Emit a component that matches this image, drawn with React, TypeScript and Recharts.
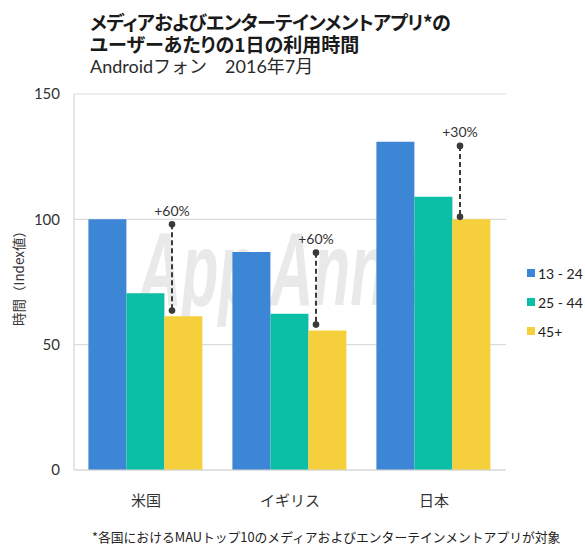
import React from 'react';
import { BarChart, Bar, XAxis, YAxis, CartesianGrid, LabelList } from 'recharts';

const categories = ['米国', 'イギリス', '日本'];
const age13to24 = [100, 87, 131];
const age25to44 = [70.5, 62.3, 109];
const age45plus = [61.3, 55.7, 100];
const annotationTop = [98, 86.7, 129.3];
const annotationBottom = [63.6, 58, 101];
const annotationLabels = ['+60%', '+60%', '+30%'];
const seriesNames = ['13 - 24', '25 - 44', '45+'];
const seriesKeys = ['a', 'b', 'c'];
const seriesColors = ['#3d85d5', '#0bbfa6', '#f6d03c'];
const yTicks = [0, 50, 100, 150];

const data = categories.map((name, i) => ({
  name,
  a: age13to24[i],
  b: age25to44[i],
  c: age45plus[i],
}));

const NUM_FONT = "Lato, 'Noto Sans CJK JP', sans-serif";
const JP_FONT = "'Noto Sans CJK JP', sans-serif";

const renderAnnotation = (props: any) => {
  const vb = props.viewBox || {};
  const x = props.x ?? vb.x;
  const y = props.y ?? vb.y;
  const width = props.width ?? vb.width;
  const height = props.height ?? vb.height;
  const index = props.index;
  const value = Number(props.value ?? age45plus[index]);
  const perUnit = height / value;
  const base = y + height;
  const lx = x + width * 0.2;
  const yTop = base - annotationTop[index] * perUnit;
  const yBot = base - annotationBottom[index] * perUnit;
  return (
    <g>
      <line x1={lx} x2={lx} y1={yTop} y2={yBot} stroke="#3a3a3a" strokeWidth={2} strokeDasharray="5 3" />
      <circle cx={lx} cy={yTop} r={3.3} fill="#3a3a3a" />
      <circle cx={lx} cy={yBot} r={3.3} fill="#3a3a3a" />
      <text x={lx} y={yTop - 14} textAnchor="middle" dominantBaseline="central" fontSize={14} fill="#333" fontFamily={NUM_FONT}>
        {annotationLabels[index]}
      </text>
    </g>
  );
};

const renderYLabel = () => (
  <text
    x={18}
    y={275}
    transform="rotate(-90 18 275)"
    textAnchor="middle"
    dominantBaseline="central"
    fontSize={13.5}
    fill="#333333"
    fontFamily={JP_FONT}
  >
    時間（Index値）
  </text>
);

const titleStyle: React.CSSProperties = {
  position: 'absolute',
  left: 90,
  fontFamily: JP_FONT,
  fontWeight: 700,
  fontSize: 19,
  lineHeight: '22px',
  color: '#1a1a1a',
  whiteSpace: 'nowrap',
  fontFeatureSettings: '"palt"',
};

export default function App() {
  return (
    <div style={{ position: 'absolute', left: 0, top: 0, width: 585, height: 545, background: '#fff', overflow: 'hidden' }}>
      <div
        style={{
          position: 'absolute',
          left: 138,
          top: 217,
          fontFamily: "'Liberation Sans', sans-serif",
          fontStyle: 'italic',
          fontWeight: 700,
          fontSize: 104,
          lineHeight: '104px',
          color: '#e9e9e9',
          whiteSpace: 'nowrap',
          transform: 'scaleX(0.58)',
          transformOrigin: 'left top',
        }}
      >
        App Annie
      </div>
      <div style={{ ...titleStyle, top: 11, letterSpacing: '-0.6px' }}>メディアおよびエンターテインメントアプリ*の</div>
      <div style={{ ...titleStyle, top: 33 }}>ユーザーあたりの1日の利用時間</div>
      <div style={{ position: 'absolute', left: 90, top: 56, fontFamily: NUM_FONT, fontSize: 18, lineHeight: '20px', color: '#2a2a2a', whiteSpace: 'nowrap' }}>
        Androidフォン　2016年7月
      </div>
      <div style={{ position: 'absolute', left: 0, top: 0 }}>
        <BarChart
          width={585}
          height={545}
          data={data}
          margin={{ top: 94, right: 79, bottom: 45, left: 14 }}
          barCategoryGap="10%"
          barGap={0}
        >
          <CartesianGrid vertical={false} stroke="#dcdcdc" strokeWidth={1.2} />
          <XAxis
            dataKey="name"
            height={30}
            axisLine={{ stroke: '#d6d6d6', strokeWidth: 1.2 }}
            tickLine={false}
            tickSize={0}
            tickMargin={25}
            tick={{ fontSize: 15, fill: '#333', fontFamily: JP_FONT }}
          />
          <YAxis
            width={60}
            domain={[0, 150]}
            ticks={yTicks}
            axisLine={{ stroke: '#d6d6d6', strokeWidth: 1.2 }}
            tickLine={false}
            tickSize={0}
            tickMargin={14}
            tick={{ fontSize: 15, fill: '#333', fontFamily: NUM_FONT }}
            label={{ content: renderYLabel }}
          />
          {seriesKeys.map((k, i) => (
            <Bar key={k} dataKey={k} name={seriesNames[i]} fill={seriesColors[i]} isAnimationActive={false}>
              {k === 'c' ? <LabelList dataKey="c" content={renderAnnotation} /> : null}
            </Bar>
          ))}
        </BarChart>
      </div>
      {seriesNames.map((n, i) => (
        <div
          key={n}
          style={{ position: 'absolute', left: 527, top: 264 + i * 29, height: 18, display: 'flex', alignItems: 'center', fontFamily: NUM_FONT, fontSize: 14, color: '#222' }}
        >
          <span style={{ display: 'inline-block', width: 8, height: 8, background: seriesColors[i], marginRight: 3 }} />
          {n}
        </div>
      ))}
      <div style={{ position: 'absolute', left: 92, top: 528, fontFamily: JP_FONT, fontSize: 12.8, lineHeight: '18px', color: '#222', whiteSpace: 'nowrap' }}>
        *各国におけるMAUトップ10のメディアおよびエンターテインメントアプリが対象
      </div>
    </div>
  );
}
